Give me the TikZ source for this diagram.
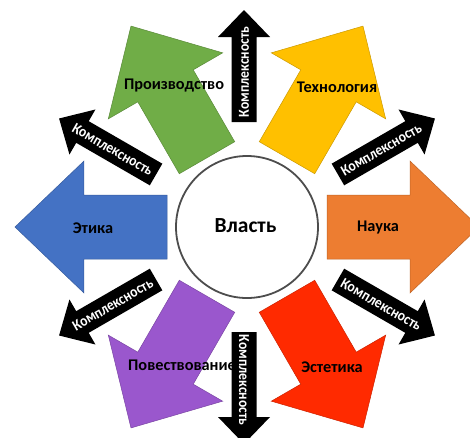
\documentclass[tikz,border=0pt]{standalone}
\usepackage{fontspec}
\setmainfont{Carlito}
\definecolor{cgreen}{HTML}{70AD47}
\definecolor{cyellow}{HTML}{FFC000}
\definecolor{corange}{HTML}{ED7D31}
\definecolor{cred}{HTML}{FF2A00}
\definecolor{cpurple}{HTML}{9A57CD}
\definecolor{cblue}{HTML}{4472C4}
\definecolor{ringgray}{HTML}{4D4D4D}
\tikzset{
  bigarrow/.style={draw=#1!80!black, line width=0.5pt, fill=#1},
  pics/bigarr/.style={code={
    \draw[bigarrow=#1] (80,-32) -- (163,-32) -- (163,-66) -- (232,0) -- (163,66) -- (163,32) -- (80,32) -- cycle;}},
  pics/cplxarr/.style={code={
    \fill[black] (105,-12.5) -- (190,-12.5) -- (190,-26) -- (217,0) -- (190,26) -- (190,12.5) -- (105,12.5) -- cycle;}},
  lbl/.style={font=\fontsize{16.3}{18}\selectfont\bfseries, text=black, inner sep=0pt},
  cplxtext/.style={font=\fontsize{13.6}{15}\selectfont\bfseries, text=white, inner sep=0pt},
}
\begin{document}
\begin{tikzpicture}[x=1pt,y=1pt]
\useasboundingbox (-247,-210) rectangle (223,227);
\clip (-247,-210) rectangle (223,227);
\fill[white] (-247,-210) rectangle (223,227);
% big coloured arrows
\pic[rotate=120] {bigarr=cgreen};
\pic[rotate=60] {bigarr=cyellow};
\pic[rotate=0] {bigarr=corange};
\pic[rotate=-60] {bigarr=cred};
\pic[rotate=-120] {bigarr=cpurple};
\pic[rotate=180] {bigarr=cblue};
% black complexity arrows
\pic[xshift=-3pt, rotate=90] {cplxarr};
\pic[rotate=30] {cplxarr};
\pic[rotate=-30] {cplxarr};
\pic[xshift=-3pt, rotate=-90] {cplxarr};
\pic[rotate=-150] {cplxarr};
\pic[rotate=150] {cplxarr};
\node[cplxtext, rotate=90] (k1) at ([xshift=-3pt]90:155) {\scalebox{1}[1.12]{Комплексность}};
\node[cplxtext, rotate=30] (k2) at (30:155) {\scalebox{1}[1.12]{Комплексность}};
\node[cplxtext, rotate=-30] (k3) at (-30:155) {\scalebox{1}[1.12]{Комплексность}};
\node[cplxtext, rotate=-90] (k4) at ([xshift=-3pt]-90:153) {\scalebox{1}[1.12]{Комплексность}};
\node[cplxtext, rotate=30] (k5) at (-150:155) {\scalebox{1}[1.12]{Комплексность}};
\node[cplxtext, rotate=-30] (k6) at (150:155) {\scalebox{1}[1.12]{Комплексность}};
% centre
\node[circle, draw=ringgray, line width=1.8pt, fill=white, minimum size=142pt, inner sep=0pt] (c) at (0,0) {};
\node[font=\fontsize{21.5}{24}\selectfont\bfseries, inner sep=0pt] (vl) at (-1.5,1) {Власть};
% labels
\node[lbl] (l1) at (-73,141) {Производство};
\node[lbl] (l2) at (90,140) {Технология};
\node[lbl] (l3) at (-154,-1) {Этика};
\node[lbl] (l4) at (131,0) {Наука};
\node[lbl] (l5) at (-65,-138) {Повествование};
\node[lbl] (l6) at (85,-140) {Эстетика};
\end{tikzpicture}
\end{document}
